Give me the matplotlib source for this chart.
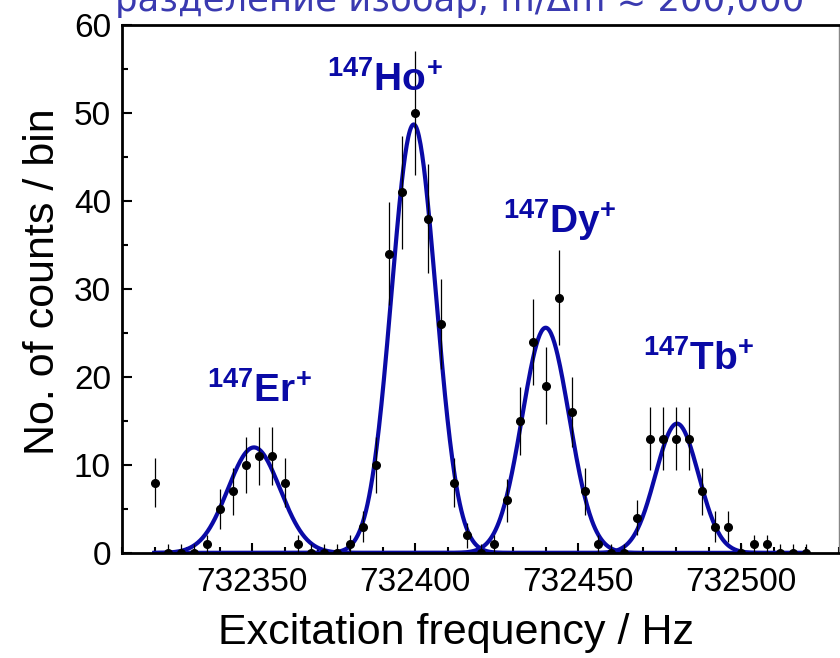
import numpy as np
import matplotlib
matplotlib.use("Agg")
import matplotlib.pyplot as plt
from matplotlib.ticker import MultipleLocator

plt.rcParams['font.family'] = ['Liberation Sans', 'DejaVu Sans']
plt.rcParams['mathtext.fontset'] = 'custom'
plt.rcParams['mathtext.rm'] = 'Liberation Sans'
plt.rcParams['mathtext.bf'] = 'Liberation Sans:bold'

# bins, 4 Hz wide
freq = np.arange(732320, 732521, 4)
counts = [8, 0, 0, 0, 1, 5, 7, 10, 11, 11, 8, 1, 0, 0, 0, 1,
          3, 10, 34, 41, 50, 38, 26, 8, 2, 0, 1, 6, 15, 24, 19, 29,
          16, 7, 1, 0, 0, 4, 13, 13, 13, 13, 7, 3, 3, 0, 1, 1,
          0, 0, 0]

# gaussian fit parameters per isobar
ions = ["Er", "Ho", "Dy", "Tb"]
centers = [732350.5, 732399.5, 732440.0, 732480.3]
amps = [12.0, 48.7, 25.6, 14.7]
sigmas = [8.0, 6.8, 7.2, 6.6]
label_pos = [(732336, 17.2), (732373, 52.5), (732427, 36.4), (732470, 20.8)]

blue = '#0a0aa6'

fig = plt.figure(figsize=(8.4, 6.58), dpi=100)
ax = fig.add_axes([122/840, 1-553/658, 717/840, 528/658])

counts = np.array(counts)
err = np.sqrt(np.maximum(counts, 1))  # poisson errors

xf = np.linspace(732320, 732520, 800)
for c, a, s in zip(centers, amps, sigmas):
    ax.plot(xf, a*np.exp(-(xf-c)**2/(2*s**2)), color=blue, lw=3, zorder=2)

ax.errorbar(freq, counts, yerr=err, fmt='o', color='black', ms=5.5,
            elinewidth=0.9, capsize=0, zorder=3)

for ion, (lx, ly) in zip(ions, label_pos):
    ax.text(lx, ly, r'$\mathbf{^{147}%s^{+}}$' % ion, color=blue,
            fontsize=28, ha='left', va='baseline')

ax.set_xlim(732310, 732530)
ax.set_ylim(0, 60)
ax.xaxis.set_major_locator(MultipleLocator(50))
ax.xaxis.set_minor_locator(MultipleLocator(10))
ax.yaxis.set_major_locator(MultipleLocator(10))
ax.yaxis.set_minor_locator(MultipleLocator(5))
ax.tick_params(which='both', direction='in', width=1.5, labelsize=24)
ax.tick_params(which='major', length=7)
ax.tick_params(which='minor', length=4.5)
ax.tick_params(axis='x', pad=10)
ax.tick_params(axis='y', pad=8)
ax.ticklabel_format(useOffset=False, style='plain', axis='x')
for sp in ['left', 'bottom', 'top']:
    ax.spines[sp].set_linewidth(2)
ax.spines['right'].set_linewidth(1)
ax.spines['right'].set_color('#888888')

ax.set_xlabel("Excitation frequency / Hz", fontsize=31)
ax.set_ylabel("No. of counts / bin", fontsize=31)
ax.xaxis.set_label_coords(0.466, -0.113)
ax.yaxis.set_label_coords(-0.082, 0.513)

fig.text(115/840, 1-11/658, "разделение изобар, m/Δm ≈ 200,000",
         family='DejaVu Sans', color='#3a3ab0', fontsize=25.5,
         ha='left', va='baseline')

fig.savefig("out.png", dpi=100)
